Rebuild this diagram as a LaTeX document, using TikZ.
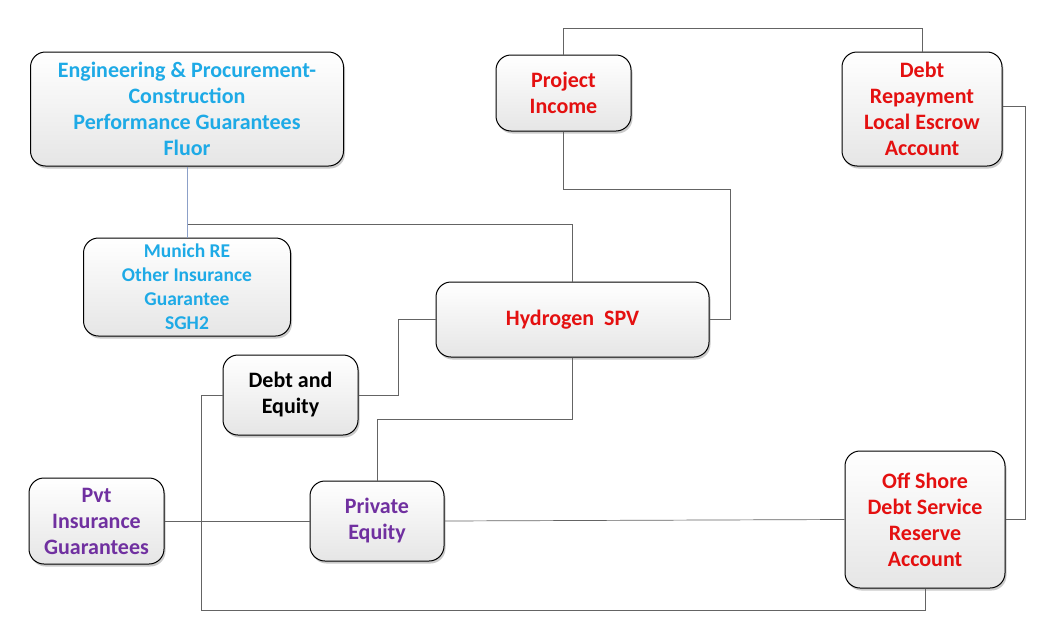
\documentclass[tikz,border=0pt]{standalone}
\usepackage{fontspec}
\setmainfont{Carlito}
\usetikzlibrary{shadows,calc}
\definecolor{tblue}{RGB}{30,170,230}
\definecolor{tred}{RGB}{228,16,16}
\definecolor{tpurple}{RGB}{112,48,160}
\definecolor{conncol}{RGB}{100,100,100}
\definecolor{bluecon}{RGB}{140,160,200}
\tikzset{
  box/.style={draw=black, line width=1pt, rounded corners=15pt, align=center,
    top color=white, bottom color=black!10, inner sep=2pt,
    drop shadow={shadow xshift=1.5pt, shadow yshift=-2.5pt, opacity=0.35, fill=black!60},
    font=\bfseries\fontsize{22}{26}\selectfont},
  conn/.style={draw=conncol, line width=0.7pt},
}
\begin{document}
\begin{tikzpicture}[x=1pt,y=1pt]
\useasboundingbox (0,0) rectangle (1057,-640);
\node[box, minimum width=313pt, minimum height=114pt, text=tblue] (epc) at (187,-109)
  {Engineering \& Procurement-\\Construction\\Performance Guarantees\\Fluor};
\node[box, minimum width=207pt, minimum height=98pt, text=tblue, font=\bfseries\fontsize{19.5}{24}\selectfont] (munich) at (187,-287)
  {Munich RE\\Other Insurance\\Guarantee\\SGH2};
\node[box, minimum width=135pt, minimum height=76pt, text=tred] (pi) at (563.5,-93)
  {Project\\Income};
\node[box, minimum width=160pt, minimum height=114pt, text=tred] (dr) at (922,-109)
  {Debt\\Repayment\\Local Escrow\\Account};
\node[box, minimum width=273pt, minimum height=75pt, text=tred] (h2) at (572.5,-319.5)
  {Hydrogen\ \ SPV};
\node[box, minimum width=135pt, minimum height=80pt, text=black] (de) at (290.5,-395)
  {Debt and\\Equity};
\node[box, minimum width=135pt, minimum height=86pt, text=tpurple] (pvt) at (96.5,-521)
  {Pvt\\Insurance\\Guarantees};
\node[box, minimum width=134pt, minimum height=80pt, text=tpurple] (pe) at (377,-521)
  {Private\\Equity};
\node[box, minimum width=160pt, minimum height=137pt, text=tred] (os) at (925,-519.5)
  {Off Shore\\Debt Service\\Reserve\\Account};
% connectors
\draw[conn] (epc.south) -- ++(0,-58) coordinate (j1) -| (h2.north);
\draw[bluecon, line width=0.7pt] (epc.south) -- (munich.north);
\draw[conn] (pi.north) -- ++(0,26) -| (dr.north);
\draw[conn] (pi.south) |- (730,-189) coordinate (j2) |- (h2.east);
\draw[conn] ([yshift=3pt]dr.east) -- ++(23,0) |- (os.east);
\draw[conn] (h2.west) -- ++(-37,0) |- (de.east);
\draw[conn] (de.west) -- ++(-21,0) |- (os.south |- 0,-610) -- (os.south);
\draw[conn] (h2.south) -- ++(0,-62) -| (pe.north);
\draw[conn] (pvt.east) -- (pe.west);
\draw[conn] (pe.east) -- (os.west);
\end{tikzpicture}
\end{document}
